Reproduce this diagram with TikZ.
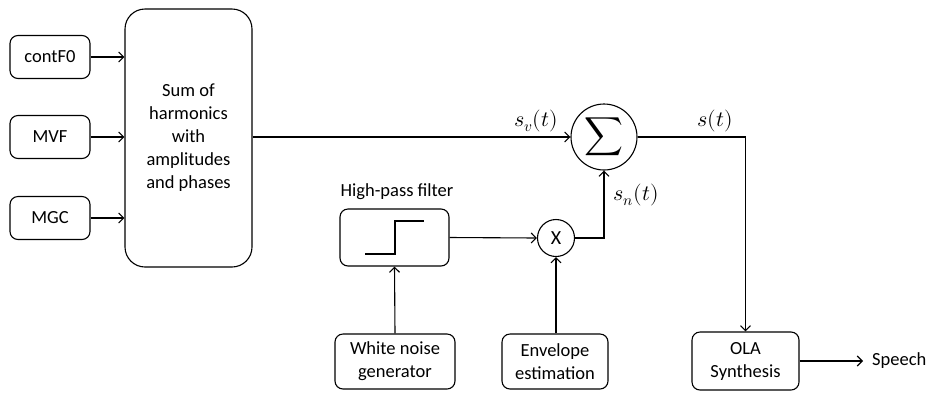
\documentclass[tikz,border=0pt]{standalone}
\usepackage{fontspec}
\usepackage{unicode-math}
\setmainfont{Carlito}
\setmathfont{Latin Modern Math}
\usetikzlibrary{arrows.meta}
\begin{document}
\begin{tikzpicture}[x=1pt,y=-1pt,
  every node/.style={font=\fontsize{18.5}{23}\selectfont},
  mlbl/.style={font=\fontsize{22}{26}\selectfont,inner sep=0pt},
  box/.style={draw,line width=1.1pt,rounded corners=8pt,align=center,inner sep=0pt},
  circ/.style={draw,line width=1.1pt,circle,inner sep=0pt},
  conn/.style={line width=1.1pt,-{Straight Barb[length=5pt,width=10pt,line width=1.1pt]}},
  wire/.style={line width=1.1pt}]
\useasboundingbox (0,0) rectangle (933,392);
% left inputs
\node[box,minimum width=80pt,minimum height=43pt] (f0) at (50,57) {contF0};
\node[box,minimum width=80pt,minimum height=43pt] (mvf) at (50,137) {MVF};
\node[box,minimum width=80pt,minimum height=43pt] (mgc) at (50,218) {MGC};
\node[box,rounded corners=20pt,minimum width=127pt,minimum height=258pt] (harm) at (188.5,138) {Sum of\\harmonics\\with\\amplitudes\\and phases};
\draw[conn] (f0.east) -- (f0.east -| harm.west);
\draw[conn] (mvf.east) -- (mvf.east -| harm.west);
\draw[conn] (mgc.east) -- (mgc.east -| harm.west);
% sum
\node[circ,minimum size=66pt] (sum) at (604,137) {\fontsize{27}{30}\selectfont$\displaystyle\sum$};
\draw[conn] (harm.east |- sum.west) -- (sum.west);
\node[mlbl] at (536,121) {$s_v(t)$};
% filter
\node[box,minimum width=109pt,minimum height=57pt] (hpf) at (394.5,237.5) {};
\node (hpflbl) at (397,192) {High-pass filter};
\draw[wire] (365,254) -- (395,254) -- (395,221) -- (424,221);
% multiplier
\node[circ,minimum size=37pt] (mul) at (556,238) {\fontsize{20}{24}\selectfont X};
\draw[conn] (hpf.east) -- (mul.west);
\coordinate (corner) at (sum.south |- mul.east);
\draw[conn] (mul.east) -- (corner) -- (sum.south);
\node[mlbl] at (636,195) {$s_n(t)$};
% bottom boxes
\node[box,minimum width=120pt,minimum height=55pt] (wng) at (395,361.5) {White noise\\generator};
\node[box,minimum width=106pt,minimum height=55pt] (env) at (555,361.5) {Envelope\\estimation};
\draw[conn] (wng.north) -- (hpf.south);
\draw[conn] (env.north -| mul.south) -- (mul.south);
% output
\node[box,minimum width=107pt,minimum height=58pt] (ola) at (745.5,361) {OLA\\Synthesis};
\coordinate (turn) at (ola.north |- sum.east);
\draw[conn] (sum.east) -- (turn) -- (ola.north);
\node[mlbl] at (715,121) {$s(t)$};
\node[anchor=west,inner sep=0pt] (speech) at (872,361) {Speech};
\draw[conn] (ola.east) -- ([xshift=-9pt]speech.west);
\end{tikzpicture}
\end{document}
